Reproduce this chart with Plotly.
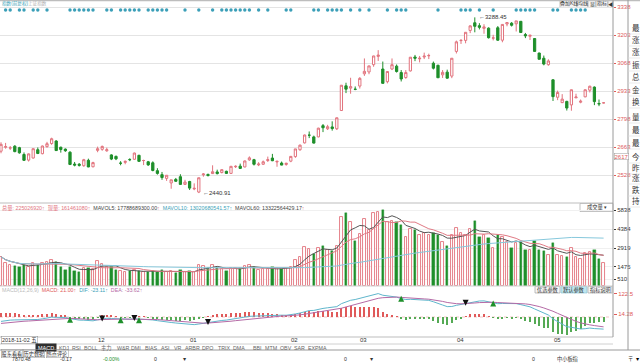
import plotly.graph_objects as go
import pandas as pd

# ---------------- data ----------------
opens = [2643, 2662, 2658, 2667, 2660, 2627, 2600, 2610, 2650, 2631, 2665, 2680, 2692, 2662, 2653, 2638, 2581, 2580, 2573, 2599, 2568,
         2647, 2652, 2645, 2625, 2618, 2585, 2589, 2603, 2604, 2623, 2598, 2592, 2587, 2549, 2530, 2512, 2490, 2507, 2520, 2483,
         2497, 2461, 2446, 2529, 2531, 2535, 2543, 2540, 2546, 2536, 2568, 2571, 2567, 2601, 2602, 2577, 2580, 2598, 2610, 2591, 2586, 2579,
         2595, 2617, 2650, 2683, 2720, 2712, 2712, 2766, 2751, 2760, 2751, 2839, 2958, 2947, 2942,
         2957, 3016, 3025, 3060, 3100, 3039, 2978, 3039, 3053, 3022, 2998, 3030, 3097, 3088, 3097, 3103, 3067, 3057, 3011, 3024, 3005,
         3124, 3176, 3177, 3225, 3262, 3248, 3235, 3236, 3188, 3238, 3178, 3256, 3260, 3257, 3269, 3205, 3197, 3186, 3116, 3091, 3060,
         2987, 2903, 2877, 2883, 2866, 2900, 2879, 2905, 2937, 2952, 2873, 2876]
highs = [2686, 2683, 2668, 2672, 2664, 2637, 2632, 2656, 2661, 2670, 2688, 2708, 2696, 2665, 2656, 2643, 2591, 2586, 2606, 2607, 2592,
         2665, 2670, 2660, 2628, 2622, 2595, 2598, 2609, 2636, 2626, 2602, 2596, 2594, 2561, 2543, 2528, 2505, 2514, 2532, 2505,
         2500, 2488, 2515, 2537, 2535, 2575, 2554, 2556, 2549, 2572, 2575, 2583, 2598, 2618, 2606, 2590, 2598, 2617, 2630, 2598, 2593, 2587,
         2620, 2654, 2675, 2723, 2738, 2718, 2756, 2774, 2770, 2787, 2805, 2962, 2973, 2997, 2955,
         3000, 3090, 3055, 3103, 3130, 3075, 3028, 3090, 3061, 3034, 3034, 3097, 3107, 3102, 3118, 3113, 3075, 3060, 3034, 3036, 3092,
         3176, 3183, 3217, 3250, 3288, 3260, 3255, 3240, 3204, 3246, 3254, 3264, 3265, 3271, 3270, 3213, 3203, 3187, 3118, 3104, 3086,
         2990, 2935, 2918, 2886, 2940, 2920, 2892, 2941, 2959, 2955, 2892, 2878]
lows = [2633, 2655, 2649, 2638, 2631, 2596, 2593, 2608, 2629, 2628, 2660, 2674, 2645, 2636, 2640, 2576, 2570, 2569, 2568, 2566, 2565,
        2638, 2645, 2640, 2600, 2600, 2575, 2580, 2595, 2602, 2592, 2576, 2572, 2546, 2530, 2505, 2500, 2462, 2495, 2481, 2480,
        2456, 2455, 2441, 2520, 2521, 2533, 2531, 2536, 2533, 2533, 2562, 2557, 2565, 2597, 2574, 2571, 2577, 2591, 2595, 2568, 2575, 2573,
        2590, 2611, 2645, 2680, 2706, 2680, 2710, 2735, 2745, 2742, 2745, 2838, 2923, 2920, 2937,
        2945, 3006, 3014, 3050, 3078, 2969, 2970, 3034, 3022, 2979, 2992, 3027, 3077, 3071, 3087, 3087, 3037, 2996, 2996, 2993, 2995,
        3114, 3160, 3163, 3212, 3216, 3230, 3209, 3186, 3177, 3175, 3168, 3245, 3244, 3220, 3214, 3188, 3179, 3123, 3085, 3057, 3055,
        2885, 2889, 2875, 2839, 2838, 2900, 2874, 2903, 2926, 2865, 2860, 2874]
closes = [2676, 2665, 2659, 2641, 2635, 2599, 2630, 2655, 2632, 2668, 2679, 2703, 2646, 2651, 2645, 2579, 2576, 2575, 2602, 2567, 2588,
          2655, 2666, 2650, 2605, 2606, 2585, 2594, 2602, 2634, 2594, 2598, 2577, 2550, 2536, 2516, 2527, 2505, 2498, 2483, 2494,
          2465, 2464, 2515, 2533, 2526, 2544, 2535, 2554, 2536, 2570, 2570, 2560, 2596, 2611, 2580, 2581, 2592, 2602, 2597, 2594, 2576, 2585,
          2618, 2654, 2672, 2721, 2720, 2682, 2754, 2756, 2761, 2752, 2804, 2961, 2942, 2954, 2941,
          2994, 3028, 3054, 3102, 3106, 2970, 3027, 3060, 3027, 2991, 3022, 3096, 3091, 3091, 3101, 3104, 3043, 2997, 3023, 2995, 3091,
          3170, 3177, 3216, 3247, 3245, 3240, 3242, 3190, 3189, 3178, 3254, 3263, 3250, 3271, 3215, 3199, 3202, 3124, 3086, 3063, 3078,
          2906, 2926, 2894, 2851, 2939, 2904, 2884, 2939, 2956, 2882, 2871, 2876]
volumes = [2250, 1800, 1650, 1550, 1450, 1600, 1500, 1800, 1650, 1750, 1850, 2000, 1850, 1500, 1250, 1450, 1150, 1100, 1400, 1350, 1300,
           1900, 1700, 1450, 1450, 1250, 1150, 1050, 1150, 1250, 1150, 1050, 1100, 1150, 1100, 1200, 1050, 1150, 1000, 1200, 1100,
           1150, 1050, 1650, 1550, 1350, 1650, 1350, 1300, 1150, 1400, 1400, 1350, 1550, 1650, 1450, 1200, 1300, 1300, 1450, 1350, 1300, 1350,
           1500, 2000, 2200, 3000, 2850, 2450, 2900, 3100, 2800, 2700, 3100, 5300, 5600, 4900, 3500,
           4000, 5150, 4300, 5600, 5700, 5838, 4900, 5000, 4950, 4700, 3800, 4400, 4300, 3950, 4100, 3950, 4100, 3900, 3400, 3100, 3900,
           4450, 4100, 3900, 4400, 5000, 3800, 3900, 3700, 2900, 3900, 3800, 3400, 2950, 3300, 3350, 2800, 2750, 3500, 2800, 2700, 2350,
           3300, 2400, 2300, 2250, 2900, 2200, 2100, 2550, 2600, 2800, 2100, 1800]

signal_idx = [1, 2, 4, 5, 7, 8, 10, 15, 16, 17, 18, 19, 20, 23, 24, 26, 27, 28, 29, 30, 32, 33, 34, 35, 36, 40, 43, 46, 48, 49,
              50, 51, 52, 53, 54, 56, 58, 62, 63, 68, 69, 71, 72, 73, 74, 76, 78, 80, 84, 86, 87, 88, 95, 100, 101, 102, 104,
              107, 112, 113, 114, 115, 116, 120, 121, 124, 125, 126, 127]
golden_idx = [22, 29, 45, 101]
dead_idx = [15, 26, 30, 87, 107]

month_labels = ["12", "01", "02", "03", "04", "05"]
month_idx = [21, 41, 63, 78, 99, 120]
price_ticks = [3338, 3203, 3068, 2933, 2798, 2663, 2528]
vol_ticks = [5838, 4384, 2919, 1475, 510]
macd_ticks = [122.5, 14.28]
hi_idx, hi_val = 103, 3288.45
lo_idx, lo_val = 43, 2440.91

# ---------------- derived indicators ----------------
n = len(closes)
xs = list(range(n))
vol_s = pd.Series(volumes, dtype=float)
ma5 = vol_s.rolling(5, min_periods=1).mean()
ma10 = vol_s.rolling(10, min_periods=1).mean()
ma60 = vol_s.rolling(60, min_periods=1).mean()

# MACD(12,26,9), seeded with the readout shown for the first bar (DIF -23.11, DEA -33.62)
e26 = 2660.0
e12 = e26 - 23.11
dea = -33.62
dif_l, dea_l = [e12 - e26], [dea]
for c in closes[1:]:
    e12 = (2 * c + 11 * e12) / 13
    e26 = (2 * c + 25 * e26) / 27
    d = e12 - e26
    dea = (2 * d + 8 * dea) / 10
    dif_l.append(d)
    dea_l.append(dea)
hist = [2 * (a - b) for a, b in zip(dif_l, dea_l)]

# ---------------- geometry ----------------
W, H = 640, 363
ML, MR, MT, MB = 0, 27, 1, 26
PW, PH = W - ML - MR, H - MT - MB
STEP = 4.6


def X(px):
    return (px - ML) / PW


def Y(py):
    return (H - MB - py) / PH


FONT = "Liberation Sans, Arial, Noto Sans CJK SC, sans-serif"
UP = "#e2737d"
DN = "#1e8f2a"

fig = go.Figure()

fig.add_trace(go.Candlestick(
    x=xs, open=opens, high=highs, low=lows, close=closes,
    increasing=dict(line=dict(color=UP, width=1), fillcolor="white"),
    decreasing=dict(line=dict(color=DN, width=1), fillcolor=DN),
    whiskerwidth=0, hoverinfo="skip", showlegend=False, yaxis="y"))

# signal dots along the top of the price panel
p_top = 3338 + 6 * 4.82
p_bot = 3338 - 196 * 4.82
sig_y = p_top - 9 * 4.82
fig.add_trace(go.Scatter(x=signal_idx, y=[sig_y] * len(signal_idx), mode="markers",
                         marker=dict(symbol="circle", size=3.4, color="#3b9fb8"),
                         hoverinfo="skip", showlegend=False, yaxis="y"))

# volume bars
up_i = [i for i in xs if closes[i] >= opens[i]]
dn_i = [i for i in xs if closes[i] < opens[i]]
fig.add_trace(go.Bar(x=up_i, y=[volumes[i] for i in up_i], width=0.5,
                     marker=dict(color="white", line=dict(color=UP, width=0.9)),
                     hoverinfo="skip", showlegend=False, yaxis="y2"))
fig.add_trace(go.Bar(x=dn_i, y=[volumes[i] for i in dn_i], width=0.5,
                     marker=dict(color=DN, line=dict(color=DN, width=0.4)),
                     hoverinfo="skip", showlegend=False, yaxis="y2"))
for s, col in [(ma5, "#555555"), (ma10, "#e07a85"), (ma60, "#86c8dc")]:
    fig.add_trace(go.Scatter(x=xs, y=list(s), mode="lines", line=dict(color=col, width=1),
                             hoverinfo="skip", showlegend=False, yaxis="y2"))

# MACD
pos_i = [i for i in xs if hist[i] >= 0]
neg_i = [i for i in xs if hist[i] < 0]
fig.add_trace(go.Bar(x=pos_i, y=[hist[i] for i in pos_i], width=0.22,
                     marker=dict(color="#e05a5a", line=dict(width=0)),
                     hoverinfo="skip", showlegend=False, yaxis="y3"))
fig.add_trace(go.Bar(x=neg_i, y=[hist[i] for i in neg_i], width=0.22,
                     marker=dict(color="#55aa55", line=dict(width=0)),
                     hoverinfo="skip", showlegend=False, yaxis="y3"))
fig.add_trace(go.Scatter(x=xs, y=dif_l, mode="lines", line=dict(color="#5fb6cc", width=1),
                         hoverinfo="skip", showlegend=False, yaxis="y3"))
fig.add_trace(go.Scatter(x=xs, y=dea_l, mode="lines", line=dict(color="#b56aa6", width=1),
                         hoverinfo="skip", showlegend=False, yaxis="y3"))
fig.add_trace(go.Scatter(x=dead_idx, y=[max(dif_l[i], dea_l[i]) + 9 for i in dead_idx], mode="markers",
                         marker=dict(symbol="arrow-up", size=6, color="#1e8f2a"),
                         hoverinfo="skip", showlegend=False, yaxis="y3"))
fig.add_trace(go.Scatter(x=golden_idx, y=[min(dif_l[i], dea_l[i]) - 10 for i in golden_idx], mode="markers",
                         marker=dict(symbol="arrow-down", size=6, color="#111111"),
                         hoverinfo="skip", showlegend=False, yaxis="y3"))

x_lo = -(1 - ML) / STEP
x_hi = x_lo + PW / STEP

ann = []


def A(x, y, text, size=6, color="#333", xanchor="left", yanchor="middle", xref="paper", yref="paper", **kw):
    ann.append(dict(x=x, y=y, text=text, xref=xref, yref=yref, xanchor=xanchor, yanchor=yanchor,
                    showarrow=False, font=dict(size=size, color=color, family=FONT), **kw))


# high / low labels
A(hi_idx + 0.4, hi_val, "←3288.45", 6, "#333", xref="x", yref="y")
A(lo_idx + 0.4, lo_val, "←2440.91", 6, "#333", xref="x", yref="y")

# price panel header
A(X(0), Y(4), "指数(前复权)", 4.6, "#3b9fb8")
A(X(26), Y(4), "上证指数", 4.6, "#b0b0b0")

# top-right buttons
for x0, x1, t in [(560, 577, "叠加K线"), (577, 588, "均线"), (588, 596, "显"), (596, 608, "指标"), (608, 613, "◀")]:
    A(X((x0 + x1) / 2), Y(4), t, 5, "#333", xanchor="center")

# volume header
vol_head = ('<span style="color:#e2737d">总量: 225026920↑  现量: 161461080↑</span>  '
            '<span style="color:#444">MAVOL5: 17788689300.00</span><span style="color:#e2737d">↑</span>  '
            '<span style="color:#3b9fb8">MAVOL10: 13020680541.57↑</span>  '
            '<span style="color:#444">MAVOL60: 13322564429.17</span><span style="color:#e2737d">↑</span>')
A(X(0), Y(208), vol_head, 5.3)
A(X(597), Y(207.5), "成交量 ▾", 5.3, "#333", xanchor="center")

# MACD header
macd_head = ('<span style="color:#bbb">MACD(12,26,9)</span>  '
             '<span style="color:#e05a5a">MACD: 21.00↑</span>  '
             '<span style="color:#3b9fb8">DIF: -23.11↑</span>  '
             '<span style="color:#b56aa6">DEA: -33.62↑</span>')
A(X(0), Y(290), macd_head, 5.3)
for x0, x1, t in [(535, 560, "优选参数"), (561, 587, "默认参数"), (588, 612, "指标说明")]:
    A(X((x0 + x1) / 2), Y(289.5), t, 5.2, "#333", xanchor="center")

# 2617 box label
A(X(621), Y(156), "2617", 6, "#e05a5a", xanchor="center", bordercolor="#999", borderwidth=0.5, borderpad=0,
  bgcolor="white")

# x month labels
for lab, i in zip(month_labels, month_idx):
    A(i - 0.3, Y(340), lab, 6, "#333", xref="x")
A(X(1), Y(340), "2018-11-02 五", 5.5, "#333", bordercolor="#888", borderwidth=0.5, borderpad=0.5, bgcolor="white")

# indicator tabs
tabs = [(35, "MACD"), (57, "KDJ"), (70, "RSI"), (82, "BOLL"), (99, "主力"), (115, "W&R"), (129, "DMI"), (143, "BIAS"),
        (159, "ASI"), (172, "VR"), (183, "ARBR"), (200, "DPO"), (216, "TRIX"), (231, "DMA"), (251, "BBI"), (263, "MTM"),
        (278, "OBV"), (292, "SAR"), (306, "EXPMA")]
for x0, t in tabs:
    if t == "MACD":
        A(X(x0), Y(347.5), " MACD ", 5.5, "white", bgcolor="#2f2f2f", borderpad=0.5)
    else:
        A(X(x0), Y(347.5), t, 5.3, "#666")
for x0, t in [(0, "股东看看"), (22, "历史数据"), (45, "热点评论")]:
    A(X(x0 + 1), Y(353), t, 5.2, "#333", bordercolor="#999", borderwidth=0.5, borderpad=0)

# bottom status row
for x0, t, c in [(10, "7870.48", "#333"), (58, "-0.17", "#333"), (101, "-0.00%", "#1e8f2a"), (152, "0", "#333"),
                 (180, "▼", "#333"), (342, "0", "#333"), (367, "▼", "#333"), (530, "0", "#333"), (555, "中小板指", "#333"),
                 (626, "〒", "#333"), (633, "▼", "#000")]:
    A(X(x0), Y(358.5), t, 5.2, c)

# right-side info column
side_rows = [28, 40, 52, 65, 77, 90, 102, 117, 130, 143, 157, 168, 178, 190, 201]
side_chars = ["最", "涨", "涨", "振", "总", "金", "换", "量", "最", "最", "今", "昨", "涨", "跌", "持"]
for yy, ch in zip(side_rows, side_chars):
    A(X(630), Y(yy), ch, 7.5, "#333")

shapes = []


def L(x0, y0, x1, y1, color="#c8c8c8", width=1, dash=None):
    shapes.append(dict(type="line", xref="paper", yref="paper", x0=X(x0), y0=Y(y0), x1=X(x1), y1=Y(y1),
                       line=dict(color=color, width=width, dash=dash) if dash else dict(color=color, width=width)))


def R(x0, y0, x1, y1, fill="rgba(0,0,0,0)", color="#aaa"):
    shapes.append(dict(type="rect", xref="paper", yref="paper", x0=X(x0), y0=Y(y0), x1=X(x1), y1=Y(y1),
                       fillcolor=fill, line=dict(color=color, width=0.6), layer="below"))


L(0, 0.5, 640, 0.5, "#bdbdbd", 1.5)
L(0, 203, 613, 203, "#bdbdbd")
L(0, 286, 613, 286, "#cfcfcf")
L(0, 337, 613, 337, "#bdbdbd")
L(613, 0, 613, 337, "#9a9a9a")
L(628, 0, 628, 350, "#9a9a9a")
L(0, 350, 640, 350, "#9a9a9a")
L(0, 344, 613, 344, "#d0d0d0")
for yy in side_rows:
    L(628, yy + 6, 640, yy + 6, "#dddddd", 0.6)
for x0, x1 in [(560, 577), (577, 588), (588, 596), (596, 608), (608, 613)]:
    R(x0, 0.5, x1, 7.5, "#f4f4f4", "#999")
R(580, 203.5, 613, 211.5, "#ffffff", "#999")
R(535, 286.5, 560, 293, "#f6f6f6", "#999")
R(561, 286.5, 587, 293, "#bfe6ef", "#7fbfd0")
R(588, 286.5, 612, 293, "#f6f6f6", "#999")
shapes.append(dict(type="line", xref="paper", yref="y3", x0=0, x1=1, y0=0, y1=0,
                   line=dict(color="#e9a0a0", width=0.6, dash="dot"), layer="below"))

fig.update_layout(
    width=W, height=H, margin=dict(l=ML, r=MR, t=MT, b=MB), paper_bgcolor="white", plot_bgcolor="white",
    showlegend=False, barmode="overlay", bargap=0,
    font=dict(family=FONT, size=6, color="#333"),
    xaxis=dict(range=[x_lo, x_hi], showgrid=False, zeroline=False, showticklabels=False, ticks="",
               rangeslider=dict(visible=False), fixedrange=True),
    yaxis=dict(domain=[Y(203), Y(1)], range=[p_bot, p_top], side="right", tickvals=price_ticks,
               ticktext=[str(t) for t in price_ticks], tickfont=dict(size=6, color="#e05a5a", family=FONT),
               ticks="outside", ticklen=2, tickcolor="#e05a5a", showgrid=True, gridcolor="#e4e4e4",
               gridwidth=1, zeroline=False, anchor="x"),
    yaxis2=dict(domain=[Y(286), Y(205)], range=[0, 81 * 77], side="right", tickvals=vol_ticks,
                ticktext=[str(t) for t in vol_ticks], tickfont=dict(size=6, color="#333", family=FONT),
                ticks="outside", ticklen=2, tickcolor="#333", showgrid=True, gridcolor="#f0f0f0",
                zeroline=False, anchor="x"),
    yaxis3=dict(domain=[Y(337), Y(291)], range=[-(337 - 317) * 5.23, (317 - 291) * 5.23], side="right",
                tickvals=macd_ticks, ticktext=["122.5", "14.28"],
                tickfont=dict(size=6, color="#e05a5a", family=FONT), ticks="outside", ticklen=3,
                tickcolor="#e05a5a", showgrid=False, zeroline=False, anchor="x"),
    annotations=ann, shapes=shapes,
)

fig.write_html("out.html", config={"displayModeBar": False},
               post_script="document.body.style.margin='0';document.body.style.overflow='hidden';")
